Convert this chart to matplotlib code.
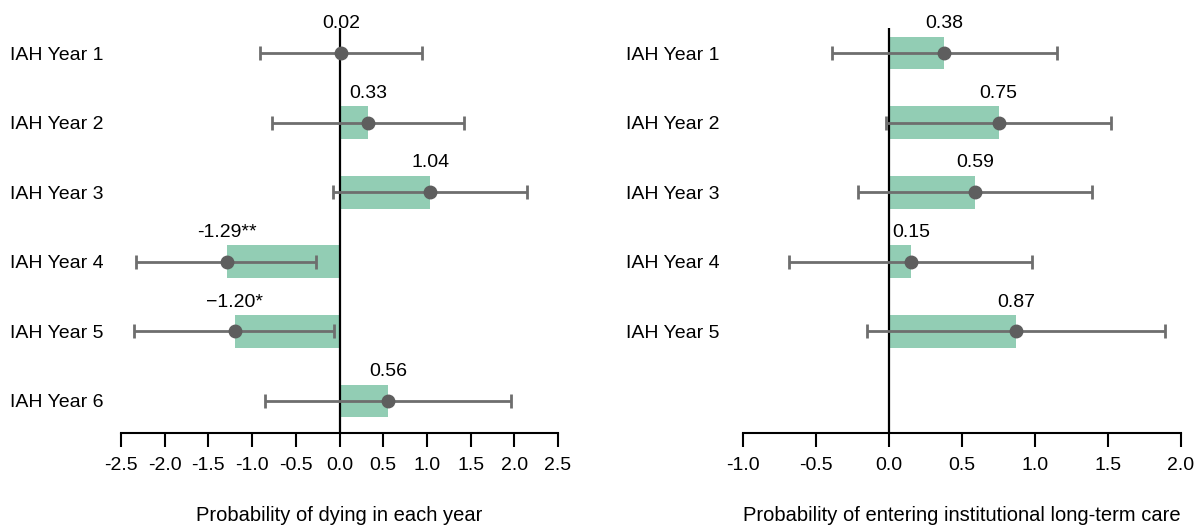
#!/usr/bin/env python3

import matplotlib
matplotlib.use("Agg")
import matplotlib.pyplot as plt


# left panel: probability of dying
death_labels = ["IAH Year 1", "IAH Year 2", "IAH Year 3", "IAH Year 4", "IAH Year 5", "IAH Year 6"]
death_est = [0.02, 0.33, 1.04, -1.29, -1.20, 0.56]
death_lo = [-0.91, -0.77, -0.07, -2.33, -2.35, -0.85]
death_hi = [0.94, 1.42, 2.14, -0.27, -0.06, 1.96]
death_text = ["0.02", "0.33", "1.04", "-1.29**", "\u22121.20*", "0.56"]
death_ticks = [-2.5, -2.0, -1.5, -1.0, -0.5, 0.0, 0.5, 1.0, 1.5, 2.0, 2.5]

# right panel: entering institutional long-term care
care_labels = ["IAH Year 1", "IAH Year 2", "IAH Year 3", "IAH Year 4", "IAH Year 5"]
care_est = [0.38, 0.75, 0.59, 0.15, 0.87]
care_lo = [-0.39, -0.02, -0.21, -0.685, -0.15]
care_hi = [1.15, 1.52, 1.39, 0.98, 1.89]
care_text = ["0.38", "0.75", "0.59", "0.15", "0.87"]
care_ticks = [-1.0, -0.5, 0.0, 0.5, 1.0, 1.5, 2.0]

BAR = "#92cdb4"
ERR = "#6e6e6e"
DOT = "#5e5e5e"
FS = 14

plt.rcParams["font.family"] = ["Liberation Sans Narrow", "Liberation Sans", "DejaVu Sans"]
plt.rcParams["font.size"] = FS


def panel(ax, labels, est, lo, hi, text, ticks, xlabel, label_pad):
    ys = list(range(len(labels)))
    ax.barh(ys, est, height=0.47, color=BAR, zorder=1)
    ax.axvline(0, color="black", linewidth=1.6, zorder=2)
    xerr = [[e - l for e, l in zip(est, lo)], [h - e for e, h in zip(est, hi)]]
    ax.errorbar(est, ys, xerr=xerr, fmt="o", color=DOT, ecolor=ERR,
                elinewidth=2, capsize=5, capthick=2, markersize=9, zorder=3)
    for y, e, t in zip(ys, est, text):
        ax.text(e, y - 0.3, t, ha="center", va="bottom", fontsize=FS, zorder=4)

    ax.set_xlim(ticks[0], ticks[-1])
    ax.set_ylim(5.46, -0.36)
    ax.set_xticks(ticks)
    ax.set_xticklabels([f"{t:.1f}" for t in ticks])
    ax.set_yticks(ys)
    ax.set_yticklabels(labels)
    for lab in ax.get_yticklabels():
        lab.set_horizontalalignment("left")
    ax.tick_params(axis="y", length=0, pad=label_pad)
    ax.tick_params(axis="x", direction="out", length=10, width=1.5, pad=7)
    for side in ["left", "right", "top"]:
        ax.spines[side].set_visible(False)
    ax.spines["bottom"].set_linewidth(1.5)
    ax.set_xlabel(xlabel, fontsize=14.5, labelpad=23)


fig = plt.figure(figsize=(12.01, 5.27), dpi=100)
ax1 = fig.add_axes([121 / 1201, 1 - 433 / 527, 437 / 1201, 405 / 527])
ax2 = fig.add_axes([743 / 1201, 1 - 433 / 527, 438 / 1201, 405 / 527])

panel(ax1, death_labels, death_est, death_lo, death_hi, death_text, death_ticks,
      "Probability of dying in each year", 80)
panel(ax2, care_labels, care_est, care_lo, care_hi, care_text, care_ticks,
      "Probability of entering institutional long-term care", 84)

fig.savefig("out.png", dpi=100)
